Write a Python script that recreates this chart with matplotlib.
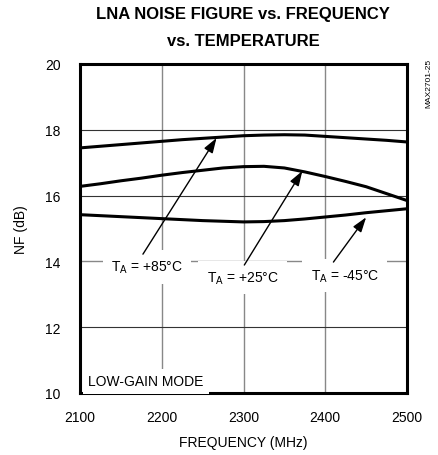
import matplotlib
matplotlib.use("Agg")
import matplotlib.pyplot as plt

plt.rcParams['font.family'] = ['Liberation Sans', 'DejaVu Sans']

freq = [2100, 2125, 2150, 2175, 2200, 2225, 2250, 2275, 2300,
        2325, 2350, 2375, 2400, 2425, 2450, 2475, 2500]
nf_85 = [17.45, 17.50, 17.55, 17.60, 17.65, 17.70, 17.74, 17.78, 17.82,
         17.84, 17.85, 17.84, 17.80, 17.76, 17.72, 17.68, 17.63]
nf_25 = [16.28, 16.36, 16.45, 16.53, 16.62, 16.70, 16.77, 16.84, 16.88,
         16.89, 16.84, 16.72, 16.58, 16.43, 16.27, 16.06, 15.85]
nf_m45 = [15.42, 15.39, 15.36, 15.33, 15.30, 15.27, 15.24, 15.22, 15.20,
          15.21, 15.24, 15.29, 15.35, 15.41, 15.48, 15.54, 15.60]

x_ticks = [2100, 2200, 2300, 2400, 2500]
y_ticks = [10, 12, 14, 16, 18, 20]

labels = ["T$_\\mathregular{A}$ = +85°C", "T$_\\mathregular{A}$ = +25°C", "T$_\\mathregular{A}$ = -45°C"]
label_pos = [(2182, 13.83), (2299, 13.50), (2424, 13.56)]
arrow_tail = [(2177, 14.22), (2301, 13.89), (2410, 13.98)]
arrow_head = [(2267, 17.75), (2372, 16.75), (2450, 15.34)]

fig = plt.figure(figsize=(4.38, 4.56), dpi=100)
ax = fig.add_axes([80/438, 1-394/456, 327/438, 329/456])

ax.set_xlim(2100, 2500)
ax.set_ylim(10, 20)
ax.set_xticks(x_ticks)
ax.set_yticks(y_ticks)
ax.tick_params(length=0, labelsize=10)
ax.tick_params(axis='x', pad=12.5)
ax.tick_params(axis='y', pad=14)

for xv in [2200, 2300, 2400]:
    ax.axvline(xv, color='#888888', lw=1.0, zorder=1)
for yv in [12, 16, 18]:
    ax.axhline(yv, color='#333333', lw=0.8, zorder=1)
ax.axhline(14, color='#888888', lw=1.0, zorder=1)

for s in ax.spines.values():
    s.set_linewidth(2.2)

for series in (nf_85, nf_25, nf_m45):
    ax.plot(freq, series, color='black', lw=2.2, zorder=3, solid_joinstyle='round')

for lab, pos in zip(labels, label_pos):
    ax.text(pos[0], pos[1], lab, ha='center', va='center', fontsize=10, zorder=4,
            bbox=dict(facecolor='white', edgecolor='none', pad=6))

for t, h in zip(arrow_tail, arrow_head):
    ax.annotate('', xy=h, xytext=t,
                arrowprops=dict(arrowstyle='-|>,head_length=0.9,head_width=0.3',
                                color='black', lw=1.0, shrinkA=0, shrinkB=0),
                zorder=5)

ax.text(2110, 10.36, 'LOW-GAIN MODE', ha='left', va='center', fontsize=10, zorder=4,
        bbox=dict(facecolor='white', edgecolor='none', pad=4))

ax.set_xlabel('FREQUENCY (MHz)', fontsize=10, labelpad=8)
ax.set_ylabel('NF (dB)', fontsize=10, labelpad=12)

fig.text(243/438, 1-14/456, 'LNA NOISE FIGURE vs. FREQUENCY', ha='center', va='center',
         fontsize=12, fontweight='bold')
fig.text(243/438, 1-41/456, 'vs. TEMPERATURE', ha='center', va='center',
         fontsize=12, fontweight='bold')
fig.text(429/438, 1-83/456, 'MAX2701-25', rotation=90, ha='center', va='center', fontsize=6)

fig.savefig('out.png', dpi=100)
